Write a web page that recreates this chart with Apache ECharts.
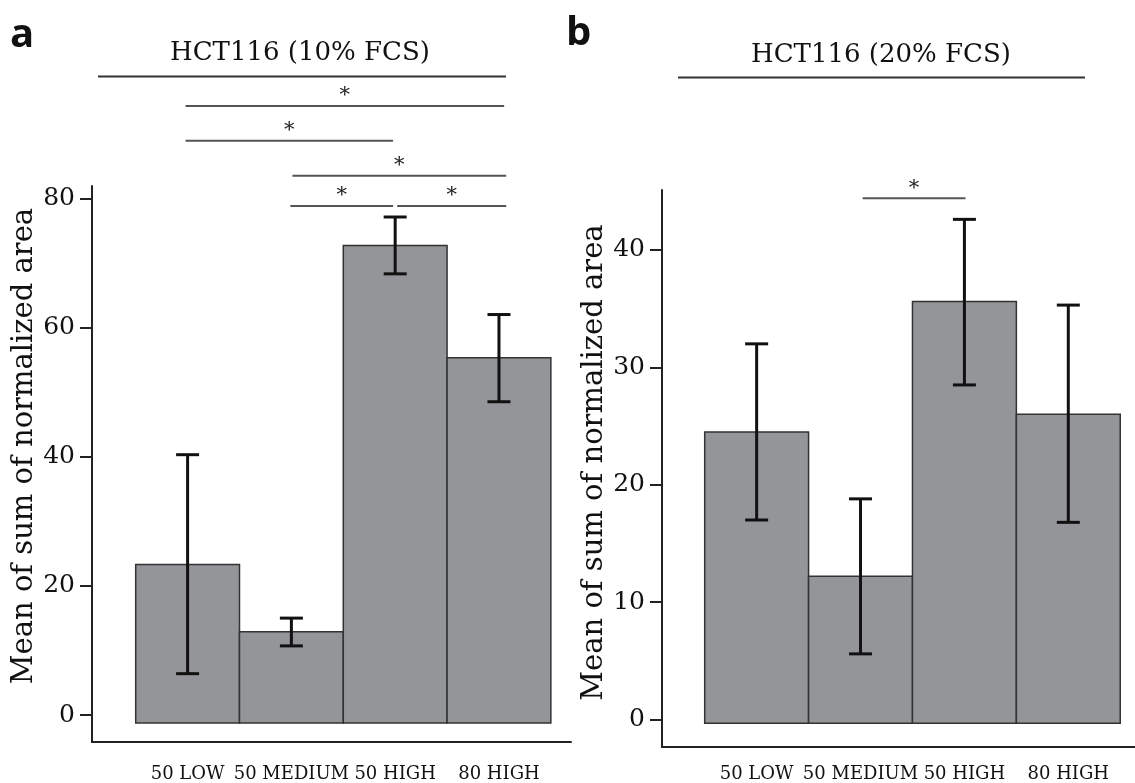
<!DOCTYPE html>
<html>
<head>
<meta charset="utf-8">
<script src="https://cdn.jsdelivr.net/npm/echarts@6/dist/echarts.min.js"></script>
<style>
  html, body { margin: 0; padding: 0; background: #fff; }
  #chart { width: 1135px; height: 783px; }
</style>
</head>
<body>
<div id="chart"></div>
<script>
// data
var categories = ['50 LOW', '50 MEDIUM', '50 HIGH', '80 HIGH'];

var meanA = [23.3, 12.9, 72.7, 55.3];
var lowA  = [6.4, 10.7, 68.3, 48.5];
var highA = [40.3, 15.0, 77.1, 62.0];
var ticksA = [0, 20, 40, 60, 80];

var meanB = [24.5, 12.2, 35.6, 26.0];
var lowB  = [17.0, 5.6, 28.5, 16.8];
var highB = [32.0, 18.8, 42.6, 35.3];
var ticksB = [0, 10, 20, 30, 40];

// bars in the figure start a little below zero
var baseA = -1.25;
var baseB = -0.3;

// significance lines: [from, to, height] in axis units
var sigA = [[-0.02, 3.05, 94.3], [-0.02, 1.98, 88.9], [1.01, 3.07, 83.5], [0.99, 1.98, 78.8], [2.02, 3.07, 78.8]];
var sigB = [[1.02, 2.01, 44.4]];

var serif = 'DejaVu Serif';
var axisColor = '#222';

(function() {
  var myChart = echarts.init(document.getElementById('chart'));

  function barItem(base) {
    return function(params, api) {
      var i = api.value(0);
      var p1 = api.coord([i - 0.5, api.value(1)]);
      var p2 = api.coord([i + 0.5, base]);
      return {
        type: 'rect',
        shape: { x: p1[0], y: p1[1], width: p2[0] - p1[0], height: p2[1] - p1[1] },
        style: { fill: '#939598', stroke: '#333', lineWidth: 1.5 }
      };
    };
  }

  function errItem(params, api) {
    var lo = api.coord([api.value(0), api.value(1)]);
    var hi = api.coord([api.value(0), api.value(2)]);
    var cap = 11.5;
    var st = { stroke: '#111', lineWidth: 3 };
    return {
      type: 'group',
      children: [
        { type: 'line', shape: { x1: lo[0], y1: lo[1], x2: hi[0], y2: hi[1] }, style: st },
        { type: 'line', shape: { x1: lo[0] - cap, y1: lo[1], x2: lo[0] + cap, y2: lo[1] }, style: st },
        { type: 'line', shape: { x1: hi[0] - cap, y1: hi[1], x2: hi[0] + cap, y2: hi[1] }, style: st }
      ]
    };
  }

  function sigItem(params, api) {
    var a = api.coord([api.value(0), api.value(2)]);
    var b = api.coord([api.value(1), api.value(2)]);
    return {
      type: 'group',
      children: [
        { type: 'line', shape: { x1: a[0], y1: a[1], x2: b[0], y2: b[1] }, style: { stroke: '#555', lineWidth: 2 } },
        { type: 'text', x: (a[0] + b[0]) / 2, y: a[1] - 10,
          style: { text: '*', fill: '#222', font: '21px "' + serif + '"', align: 'center', verticalAlign: 'middle' } }
      ]
    };
  }

  function xAxisOf(gridIndex, min, max, margin) {
    return {
      type: 'value', gridIndex: gridIndex, min: min, max: max,
      splitLine: { show: false },
      axisTick: { show: false },
      axisLine: { onZero: false, lineStyle: { color: axisColor, width: 2 } },
      axisLabel: {
        customValues: [0, 1, 2, 3],
        formatter: function(v) { return categories[Math.round(v)]; },
        color: '#111', fontFamily: serif, fontSize: 18, margin: margin
      }
    };
  }

  function yAxisOf(gridIndex, min, max, ticks, pad) {
    return {
      type: 'value', gridIndex: gridIndex, min: min, max: max,
      name: 'Mean of sum of normalized area',
      nameLocation: 'middle', nameGap: 50,
      nameTextStyle: { color: '#111', fontFamily: serif, fontSize: 29, padding: pad },
      splitLine: { show: false },
      axisLine: { show: true, onZero: false, lineStyle: { color: axisColor, width: 2 } },
      axisTick: { show: true, customValues: ticks, length: 12, lineStyle: { color: axisColor, width: 2 } },
      axisLabel: { customValues: ticks, color: '#111', fontFamily: serif, fontSize: 25, margin: 17 }
    };
  }

  function pairs(means) {
    return means.map(function(v, i) { return [i, v]; });
  }
  function errs(lo, hi) {
    return lo.map(function(v, i) { return [i, v, hi[i]]; });
  }

  var option = {
    animation: false,
    grid: [
      { left: 92, top: 186, width: 479, height: 556 },
      { left: 662, top: 190, width: 473, height: 557 }
    ],
    xAxis: [
      xAxisOf(0, -0.921, 3.694, 23),
      xAxisOf(1, -0.911, 3.642, 18)
    ],
    yAxis: [
      yAxisOf(0, -4.18, 81.9, ticksA, [0, 0, 0, 36]),
      yAxisOf(1, -2.33, 45.1, ticksB, [0, 0, 0, 12])
    ],
    graphic: [
      { type: 'text', left: 10, top: 16, style: { text: 'a', font: 'bold 40px "Open Sans"', fill: '#111' } },
      { type: 'text', left: 566, top: 14, style: { text: 'b', font: 'bold 40px "Open Sans"', fill: '#111' } },
      { type: 'text', x: 300, y: 53, style: { text: 'HCT116 (10% FCS)', font: '26px "' + serif + '"', fill: '#111', align: 'center', verticalAlign: 'middle' } },
      { type: 'text', x: 881, y: 55, style: { text: 'HCT116 (20% FCS)', font: '26px "' + serif + '"', fill: '#111', align: 'center', verticalAlign: 'middle' } },
      { type: 'line', shape: { x1: 98, y1: 76.5, x2: 506, y2: 76.5 }, style: { stroke: '#333', lineWidth: 2 } },
      { type: 'line', shape: { x1: 678, y1: 77.5, x2: 1085, y2: 77.5 }, style: { stroke: '#333', lineWidth: 2 } }
    ],
    series: [
      { type: 'custom', xAxisIndex: 0, yAxisIndex: 0, renderItem: barItem(baseA), data: pairs(meanA) },
      { type: 'custom', xAxisIndex: 0, yAxisIndex: 0, renderItem: errItem, data: errs(lowA, highA), z: 3 },
      { type: 'custom', xAxisIndex: 0, yAxisIndex: 0, renderItem: sigItem, data: sigA, clip: false },
      { type: 'custom', xAxisIndex: 1, yAxisIndex: 1, renderItem: barItem(baseB), data: pairs(meanB) },
      { type: 'custom', xAxisIndex: 1, yAxisIndex: 1, renderItem: errItem, data: errs(lowB, highB), z: 3 },
      { type: 'custom', xAxisIndex: 1, yAxisIndex: 1, renderItem: sigItem, data: sigB, clip: false }
    ]
  };

  myChart.setOption(option);
  window.addEventListener('resize', function() {
    myChart.resize();
  });
})();
</script>
</body>
</html>
